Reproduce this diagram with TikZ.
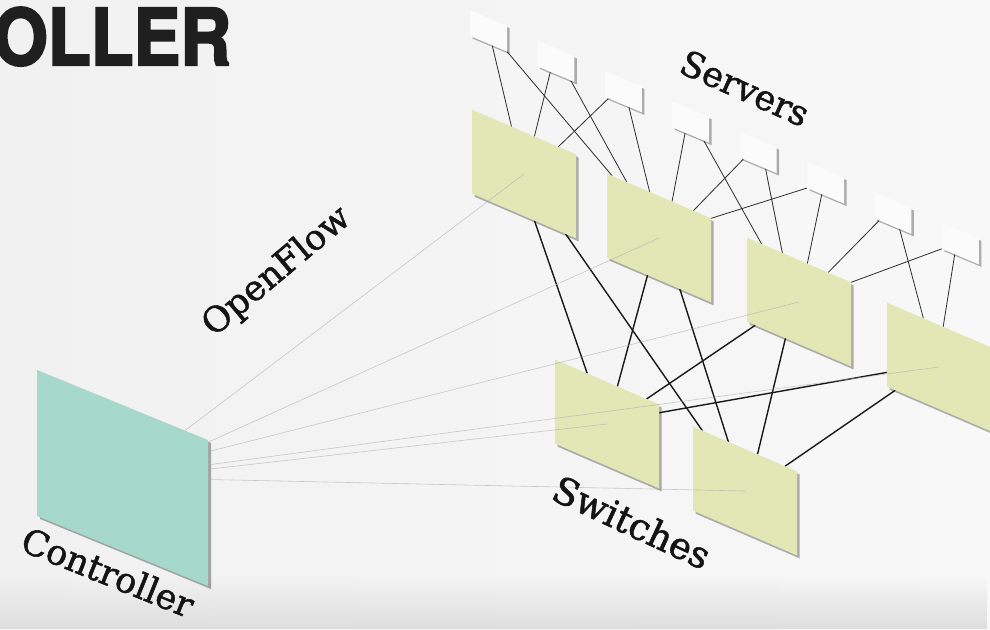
\documentclass[tikz,border=0pt]{standalone}
\usepackage{fontspec}
\setmainfont{DejaVu Serif}
\newfontfamily\lblfont[FakeBold=1.4]{DejaVu Serif}
\newfontfamily\titlefont[BoldFeatures={FakeBold=3}]{TeX Gyre Heros}
\usetikzlibrary{calc,shadows,fadings}
\definecolor{swfill}{RGB}{227,231,181}
\definecolor{ctrlfill}{RGB}{166,216,203}
\definecolor{srvfill}{RGB}{251,251,251}
\definecolor{bgL}{RGB}{241,241,241}
\definecolor{bgR}{RGB}{248,248,248}
\definecolor{bgB}{RGB}{222,222,222}
\definecolor{ofline}{RGB}{170,170,170}
\definecolor{linkc}{RGB}{45,45,45}
\pgfdeclarelayer{bgl}
\pgfdeclarelayer{wires}
\pgfsetlayers{bgl,wires,main}
\tikzfading[name=fadedown, top color=transparent!100, bottom color=transparent!0]
\begin{document}
\begin{tikzpicture}[x=1pt,y=-1pt,
 switchbox/.style={fill=swfill, minimum width=104pt, minimum height=84pt, inner sep=0pt, outer sep=0pt, yslant=-0.43,
   drop shadow={shadow xshift=2.5pt, shadow yshift=-3pt, opacity=0.3, fill=black}},
 ctrlbox/.style={fill=ctrlfill, minimum width=171pt, minimum height=146pt, inner sep=0pt, outer sep=0pt, yslant=-0.41,
   drop shadow={shadow xshift=3pt, shadow yshift=-3pt, opacity=0.32, fill=black}},
 srvbox/.style={fill=srvfill, minimum width=37pt, minimum height=26pt, inner sep=0pt, outer sep=0pt, yslant=-0.42,
   drop shadow={shadow xshift=2.5pt, shadow yshift=-2.5pt, opacity=0.3, fill=black}},
 srvlink/.style={draw=linkc, line width=0.8pt},
 swlink/.style={draw=black!90, line width=1.4pt},
 oflink/.style={draw=ofline, line width=0.6pt, opacity=0.6},
 lbl/.style={font=\lblfont\fontsize{35}{40}\selectfont, text=black!92, inner sep=0pt},
]
\useasboundingbox (0,0) rectangle (990,629);
\clip (0,0) rectangle (990,629);
\begin{pgfonlayer}{bgl}
\shade[left color=bgL, right color=bgR] (0,0) rectangle (990,629);
\fill[bgB, path fading=fadedown] (0,575) rectangle (990,629);
\end{pgfonlayer}

% title
\node[anchor=base west, inner sep=0pt, text=black!88, font=\titlefont\bfseries\fontsize{78}{80}\selectfont] (title) at (-7,65) {\scalebox{0.9}[1]{OLLER}};

% controller
\node[ctrlbox] (C) at (122.5,478) {};

% switches
\node[switchbox] (S1) at (524,174) {};
\node[switchbox] (S2) at (659,238) {};
\node[switchbox] (S3) at (799,302) {};
\node[switchbox] (S4) at (939,367) {};
\node[switchbox] (S5) at (607,424) {};
\node[switchbox] (S6) at (745,491) {};

% servers
\foreach \i in {1,...,8}
  \node[srvbox] (V\i) at ({488.5+67.4*(\i-1)}, {30.8+30.4*(\i-1)}) {};

\begin{pgfonlayer}{wires}
\foreach \a/\fa/\b/\fb in {V1/0.6/S1/0.38, V1/1.0/S2/0.05, V2/0.35/S1/0.6, V2/0.9/S2/0.19,
   V3/0.1/S1/0.83, V3/0.65/S2/0.41, V4/0.35/S2/0.625, V4/0.85/S3/0.14, V5/0.1/S2/0.83,
   V5/0.7/S3/0.34, V6/0.0/S2/1.0, V6/0.4/S3/0.58, V7/0.13/S3/0.78, V7/0.68/S4/0.35,
   V8/0.0/S3/1.0, V8/0.35/S4/0.54}
  \draw[srvlink] ($(\a.south west)!\fa!(\a.south east)$) -- ($(\b.north west)!\fb!(\b.north east)$);
\foreach \a/\fa/\b/\fb in {S1/0.6/S5/0.31, S1/0.9/S6/0.09, S2/0.39/S5/0.6, S2/0.7/S6/0.34,
   S3/0.08/S5/0.88, S3/0.37/S6/0.62, S4/0.08/S6/0.885}
  \draw[swlink] ($(\a.south west)!\fa!(\a.south east)$) -- ($(\b.north west)!\fb!(\b.north east)$);
\draw[swlink] ($(S4.north west)!0.83!(S4.south west)$) -- ($(S5.north east)!0.1!(S5.south east)$);
\end{pgfonlayer}

% OpenFlow control lines
\draw[oflink] ($(C.north west)!0.865!(C.north east)$) -- (S1.center);
\foreach \f/\s in {0.015/S2, 0.08/S3, 0.17/S4, 0.2/S5, 0.27/S6}
  \draw[oflink] ($(C.north east)!\f!(C.south east)$) -- (\s.center);

% labels
\node[lbl, rotate=-24] (servers) at (745,88) {Servers};
\node[lbl, rotate=40] (openflow) at (277,272) {OpenFlow};
\node[lbl, rotate=-25, font=\lblfont\fontsize{37}{40}\selectfont] (switches) at (632,522) {Switches};
\node[lbl, rotate=-22] (controller) at (108,572) {Controller};
\end{tikzpicture}
\end{document}
